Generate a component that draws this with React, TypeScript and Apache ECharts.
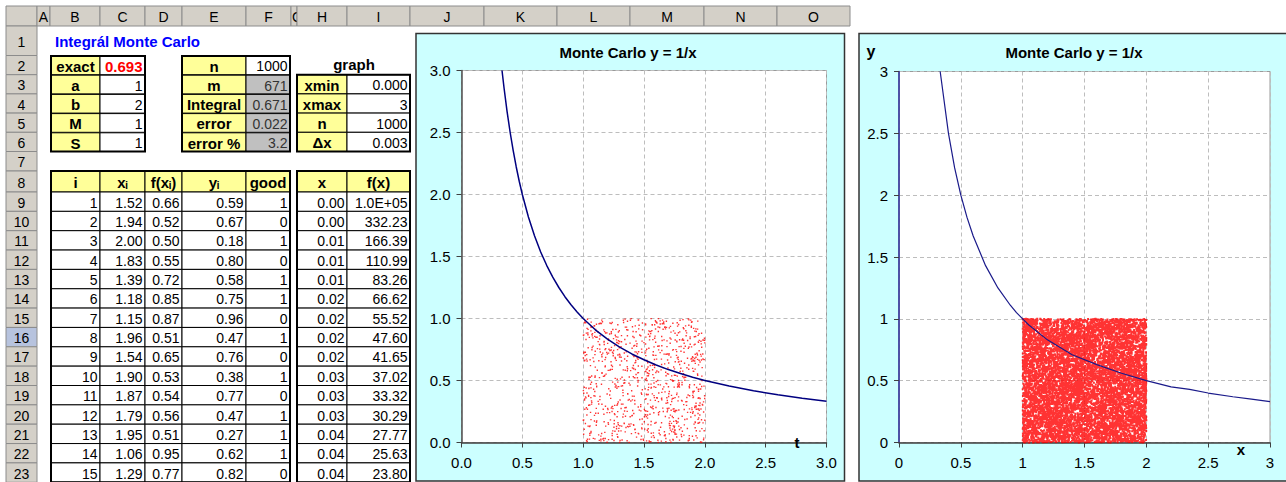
import React, { useEffect, useRef } from "react";
import * as echarts from "echarts";

const FONT = "'Liberation Sans', Arial, sans-serif";

// ---------- spreadsheet content ----------
const colLetters = ["A", "B", "C", "D", "E", "F", "G", "H", "I", "J", "K", "L", "M", "N", "O"];
const rowNumbers = [1, 2, 3, 4, 5, 6, 7, 8, 9, 10, 11, 12, 13, 14, 15, 16, 17, 18, 19, 20, 21, 22, 23];
const sheetTitle = "Integrál Monte Carlo";
const paramLabels = ["exact", "a", "b", "M", "S"];
const paramValues = ["0.693", "1", "2", "1", "1"];
const resultLabels = ["n", "m", "Integral", "error", "error %"];
const resultValues = ["1000", "671", "0.671", "0.022", "3.2"];
const graphTitle = "graph";
const graphLabels = ["xmin", "xmax", "n", "Δx"];
const graphValues = ["0.000", "3", "1000", "0.003"];
const sampleHeaders = ["i", "xᵢ", "f(xᵢ)", "yᵢ", "good"];
const sampleI = [1, 2, 3, 4, 5, 6, 7, 8, 9, 10, 11, 12, 13, 14, 15];
const sampleX = [1.52, 1.94, 2.0, 1.83, 1.39, 1.18, 1.15, 1.96, 1.54, 1.9, 1.87, 1.79, 1.95, 1.06, 1.29];
const sampleF = [0.66, 0.52, 0.5, 0.55, 0.72, 0.85, 0.87, 0.51, 0.65, 0.53, 0.54, 0.56, 0.51, 0.95, 0.77];
const sampleY = [0.59, 0.67, 0.18, 0.8, 0.58, 0.75, 0.96, 0.47, 0.76, 0.38, 0.77, 0.47, 0.27, 0.62, 0.82];
const sampleGood = [1, 0, 1, 0, 1, 1, 0, 1, 0, 1, 0, 1, 1, 1, 0];
const gridHeaders = ["x", "f(x)"];
const gridX = ["0.00", "0.00", "0.01", "0.01", "0.01", "0.02", "0.02", "0.02", "0.02", "0.03", "0.03", "0.03", "0.04", "0.04", "0.04"];
const gridF = ["1.0E+05", "332.23", "166.39", "110.99", "83.26", "66.62", "55.52", "47.60", "41.65", "37.02", "33.32", "30.29", "27.77", "25.63", "23.80"];

// ---------- chart content ----------
const chartTitle = "Monte Carlo y = 1/x";
const curveX = [0.333, 0.35, 0.375, 0.4, 0.425, 0.45, 0.475, 0.5, 0.55, 0.6, 0.65, 0.7, 0.75, 0.8, 0.85, 0.9, 0.95, 1.0, 1.1, 1.2, 1.3, 1.4, 1.5, 1.6, 1.7, 1.8, 1.9, 2.0, 2.2, 2.4, 2.6, 2.8, 3.0];
const curveY = [3.0, 2.857, 2.667, 2.5, 2.353, 2.222, 2.105, 2.0, 1.818, 1.667, 1.538, 1.429, 1.333, 1.25, 1.176, 1.111, 1.053, 1.0, 0.909, 0.833, 0.769, 0.714, 0.667, 0.625, 0.588, 0.556, 0.526, 0.5, 0.455, 0.417, 0.385, 0.357, 0.333];
const curve2X = [0.333, 0.4, 0.45, 0.5, 0.55, 0.6, 0.7, 0.8, 0.9, 0.95, 1.0, 1.05, 1.2, 1.4, 1.6, 1.8, 2.0, 2.08, 2.2, 2.35, 2.5, 2.7, 2.85, 3.0];
const curve2Y = [3.0, 2.5, 2.22, 2.0, 1.82, 1.67, 1.43, 1.25, 1.11, 1.05, 1.0, 0.95, 0.83, 0.71, 0.63, 0.56, 0.5, 0.48, 0.45, 0.43, 0.4, 0.37, 0.35, 0.33];
const sampleCountLeft = 1000;
const sampleCountRight = 9000;

// Monte Carlo sample: the first points are the table rows, the rest stand for the
// spreadsheet's remaining RAND() draws (deterministic seeded generator).
function seeded(seed: number) {
  let a = seed;
  return () => {
    a |= 0;
    a = (a + 0x6d2b79f5) | 0;
    let t = Math.imul(a ^ (a >>> 15), 1 | a);
    t = (t + Math.imul(t ^ (t >>> 7), 61 | t)) ^ t;
    return ((t ^ (t >>> 14)) >>> 0) / 4294967296;
  };
}
function buildSample(n: number, seed: number) {
  const pts: number[][] = sampleX.map((x, i) => [x, sampleY[i]]);
  const r = seeded(seed);
  while (pts.length < n) pts.push([1 + r(), r()]);
  return pts;
}

// ---------- layout ----------
const colEdges = [37, 50, 100, 145, 182, 246, 291, 297, 347, 410, 484, 557, 630, 704, 777, 850];
const rowEdges: number[] = [26, 55.5, 74.7, 93.9, 113.1, 132.3, 151.5, 171, 192];
for (let k = 1; k <= 15; k++) rowEdges.push(192 + k * 19.35);

function txt(x: number, y: number, text: string, o: any = {}) {
  return {
    type: "text",
    x,
    y,
    z: o.z ?? 1,
    style: {
      text,
      fill: o.color ?? "#000",
      fontSize: o.size ?? (o.bold ? 15 : 14),
      fontWeight: o.bold ? "bold" : "normal",
      fontFamily: FONT,
      align: o.align ?? "center",
      verticalAlign: "middle",
    },
  };
}
function rect(x0: number, y0: number, x1: number, y1: number, fill: string, stroke: string, lw = 1, z = 1) {
  return {
    type: "rect",
    z,
    shape: { x: x0, y: y0, width: x1 - x0, height: y1 - y0 },
    style: { fill, stroke, lineWidth: lw },
  };
}
function cell(els: any[], x0: number, x1: number, y0: number, y1: number, fill: string, text: string, o: any = {}) {
  els.push(rect(x0, y0, x1, y1, fill, "#000", 1));
  const yc = (y0 + y1) / 2 + 1;
  if (o.align === "right") els.push(txt(x1 - 2.5, yc, text, o));
  else els.push(txt((x0 + x1) / 2, yc, text, o));
}

function buildGraphic() {
  const els: any[] = [];
  // chart backgrounds
  els.push(rect(416, 33.5, 844.5, 481, "#CCFFFF", "#333", 1.5, -5));
  els.push(rect(859, 33.5, 1300, 481, "#CCFFFF", "#333", 1.5, -5));
  // column headers
  els.push(rect(6, 6, 37, 26, "#D4D0C8", "#8c8c8c"));
  colLetters.forEach((c, i) => {
    const x0 = colEdges[i];
    const x1 = colEdges[i + 1];
    els.push(rect(x0, 6, x1, 26, "#D4D0C8", "#8c8c8c"));
    if (c === "G") els.push(txt(x0 + 1, 16.5, c, { align: "left" }));
    else els.push(txt((x0 + x1) / 2, 16.5, c, {}));
  });
  // row headers
  rowNumbers.forEach((r, i) => {
    const y0 = rowEdges[i];
    const y1 = i + 1 < rowEdges.length ? rowEdges[i + 1] : y0 + 19.35;
    els.push(rect(6, y0, 37, y1, r === 16 ? "#B7C3DE" : "#D4D0C8", "#8c8c8c"));
    els.push(txt(21.5, (y0 + y1) / 2 + 1, String(r), {}));
  });
  // title
  els.push(txt(55, 41, sheetTitle, { align: "left", bold: true, color: "#0000FF" }));
  // parameters table (B2:C6)
  paramLabels.forEach((l, i) => {
    const y0 = rowEdges[i + 1] + 0.5;
    const y1 = rowEdges[i + 2];
    cell(els, 51, 100, y0, y1, "#FFFF99", l, { bold: true });
    cell(els, 100, 145, y0, y1, "#FFFFFF", paramValues[i], i === 0 ? { align: "right", bold: true, color: "#FF0000" } : { align: "right" });
  });
  els.push(rect(51, rowEdges[1] + 0.5, 145, rowEdges[6], "none", "#000", 2));
  // results table (E2:F6)
  resultLabels.forEach((l, i) => {
    const y0 = rowEdges[i + 1] + 0.5;
    const y1 = rowEdges[i + 2];
    cell(els, 182, 246, y0, y1, "#FFFF99", l, { bold: true });
    cell(els, 246, 290, y0, y1, i === 0 ? "#FFFFFF" : "#C0C0C0", resultValues[i], { align: "right", color: i === 0 ? "#000" : "#333" });
  });
  els.push(rect(182, rowEdges[1] + 0.5, 290, rowEdges[6], "none", "#000", 2));
  // graph table (H2:I6)
  els.push(txt(354, 64.5, graphTitle, { bold: true }));
  graphLabels.forEach((l, i) => {
    const y0 = rowEdges[i + 2];
    const y1 = rowEdges[i + 3];
    cell(els, 297, 347, y0, y1, "#FFFF99", l, { bold: true });
    cell(els, 347, 410, y0, y1, "#FFFFFF", graphValues[i], { align: "right" });
  });
  els.push(rect(297, rowEdges[2], 410, rowEdges[6], "none", "#000", 2));
  // sample table (B8:F23)
  const sCols = [51, 100, 145, 182, 246, 290];
  sampleHeaders.forEach((h, j) => {
    cell(els, sCols[j], sCols[j + 1], rowEdges[7], rowEdges[8], "#FFFF99", h, { bold: true });
  });
  sampleI.forEach((iv, k) => {
    const y0 = rowEdges[8 + k];
    const y1 = y0 + 19.35;
    const vals = [String(iv), sampleX[k].toFixed(2), sampleF[k].toFixed(2), sampleY[k].toFixed(2), String(sampleGood[k])];
    vals.forEach((v, j) => {
      cell(els, sCols[j], sCols[j + 1], y0, y1, "#FFFFFF", v, { align: "right" });
    });
  });
  els.push(rect(51, rowEdges[7], 290, rowEdges[8] + 15 * 19.35, "none", "#000", 2));
  // grid table (H8:I23)
  const gCols = [297, 347, 410];
  gridHeaders.forEach((h, j) => {
    cell(els, gCols[j], gCols[j + 1], rowEdges[7], rowEdges[8], "#FFFF99", h, { bold: true });
  });
  gridX.forEach((xv, k) => {
    const y0 = rowEdges[8 + k];
    const y1 = y0 + 19.35;
    cell(els, 297, 347, y0, y1, "#FFFFFF", xv, { align: "right" });
    cell(els, 347, 410, y0, y1, "#FFFFFF", gridF[k], { align: "right" });
  });
  els.push(rect(297, rowEdges[7], 410, rowEdges[8] + 15 * 19.35, "none", "#000", 2));
  // chart titles and axis names
  els.push(txt(628, 52.5, chartTitle, { bold: true, size: 15, z: 10 }));
  els.push(txt(1074, 52.5, chartTitle, { bold: true, size: 15, z: 10 }));
  els.push(txt(797, 442, "t", { bold: true, size: 15, z: 10 }));
  els.push(txt(871, 51, "y", { bold: true, size: 16, z: 10 }));
  els.push(txt(1241, 449, "x", { bold: true, size: 15, z: 10 }));
  return els;
}

function axis(gridIndex: number, fixed: boolean, lineColor: string, margin: number) {
  return {
    type: "value",
    gridIndex,
    min: 0,
    max: 3,
    interval: 0.5,
    z: 3,
    axisLine: { show: true, onZero: false, lineStyle: { color: lineColor, width: 1.5 } },
    axisTick: { show: true, length: 5, lineStyle: { color: "#404040" } },
    axisLabel: {
      color: "#000",
      fontSize: 15,
      fontFamily: FONT,
      margin,
      formatter: fixed ? (v: number) => v.toFixed(1) : (v: number) => String(v),
    },
    splitLine: { show: true, lineStyle: { color: "#bdbdbd", type: [4, 3], width: 1 } },
  };
}

export default function App() {
  const ref = useRef<HTMLDivElement>(null);
  useEffect(() => {
    if (!ref.current) return;
    const chart = echarts.init(ref.current, undefined, { renderer: "svg" });
    const left = buildSample(sampleCountLeft, 12345);
    const right = buildSample(sampleCountRight, 67890);
    chart.setOption({
      animation: false,
      textStyle: { fontFamily: FONT },
      graphic: { elements: buildGraphic() },
      grid: [
        { left: 461.5, top: 70.5, width: 365, height: 372, show: true, backgroundColor: "#fff", borderColor: "#9a9a9a", borderWidth: 1, z: 1 },
        { left: 899, top: 71.5, width: 371, height: 371, show: true, backgroundColor: "#fff", borderColor: "#9a9a9a", borderWidth: 1, z: 1 },
      ],
      xAxis: [axis(0, true, "#404040", 12), axis(1, false, "#404040", 12)],
      yAxis: [axis(0, true, "#505050", 11), axis(1, false, "#2a2a9a", 11)],
      series: [
        {
          type: "scatter", xAxisIndex: 0, yAxisIndex: 0, data: left, symbol: "rect", symbolSize: 1.4,
          itemStyle: { color: "#ff0000" }, large: true, largeThreshold: 200, silent: true, z: 4,
        },
        {
          type: "line", xAxisIndex: 0, yAxisIndex: 0, data: curveX.map((x, i) => [x, curveY[i]]),
          showSymbol: false, lineStyle: { color: "#000080", width: 1.5 }, z: 5, silent: true,
        },
        {
          type: "scatter", xAxisIndex: 1, yAxisIndex: 1, data: right, symbol: "rect", symbolSize: 2,
          itemStyle: { color: "#ff0000" }, large: true, largeThreshold: 200, silent: true, z: 4,
        },
        {
          type: "line", xAxisIndex: 1, yAxisIndex: 1, data: curve2X.map((x, i) => [x, curve2Y[i]]),
          showSymbol: false, lineStyle: { color: "#1a1a8a", width: 1.2 }, z: 5, silent: true,
        },
      ],
    });
    return () => chart.dispose();
  }, []);
  return (
    <div
      ref={ref}
      style={{ position: "fixed", left: 0, top: 0, width: 1286, height: 482, background: "#fff" }}
    />
  );
}
